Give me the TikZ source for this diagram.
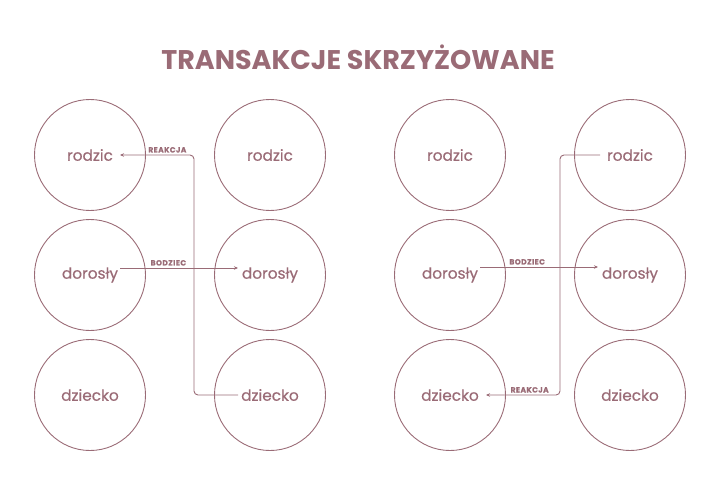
\documentclass[tikz,border=0pt]{standalone}
\usepackage{fontspec}
\setmainfont{Poppins}
\newfontfamily\wordfont[FakeBold=0.5]{Poppins}
\newfontfamily\tagfont[LetterSpace=6,FakeBold=0.8]{Poppins}
\usetikzlibrary{arrows.meta,calc}
\definecolor{mauve}{HTML}{9A6B76}
\begin{document}
\begin{tikzpicture}[x=1pt,y=-1pt]
        \tikzstyle{ego}=[circle,draw=mauve,line width=0.9pt,minimum size=111pt,inner sep=0pt,text=mauve,font=\wordfont\fontsize{15.3}{17}\selectfont]
        \tikzstyle{edge}=[draw=mauve,line width=0.9pt,rounded corners=4pt,-{Stealth[length=4pt,width=3.5pt]}]
        \tikzstyle{tag}=[text=mauve,font=\tagfont\bfseries\fontsize{7.5}{8}\selectfont,inner sep=2pt,above]
        \useasboundingbox (0,0) rectangle (720,500);
        \node[text=mauve,font=\bfseries\fontsize{27}{31}\selectfont] (title) at (358,57) {TRANSAKCJE SKRZYŻOWANE};
       % first pair
       \begin{scope}
         \node [ego] (Ar1) at (90,155) {rodzic};
         \node [ego] (Ad1) at (90,275) {dorosły};
         \node [ego] (Ac1) at (90,395) {dziecko};
         \node [ego] (Ar2) at (270,155) {rodzic};
         \node [ego] (Ad2) at (270,275) {dorosły};
         \node [ego] (Ac2) at (270,395) {dziecko};
         \coordinate (Abend) at (194,0);
         \path[edge] ([xshift=30pt,yshift=7pt]Ad1.center) -- node[tag,pos=0.41] {BODZIEC} ([xshift=-32pt,yshift=7pt]Ad2.center);
         \path[edge] ([xshift=-32pt]Ac2.center) -- (Abend |- Ac2) -- (Abend |- Ar1) -- node[tag,pos=0.36] {REAKCJA} ([xshift=30pt]Ar1.center);
        \end{scope}
       % second pair
       \begin{scope}
         \node [ego] (Br1) at (450,155) {rodzic};
         \node [ego] (Bd1) at (450,275) {dorosły};
         \node [ego] (Bc1) at (450,395) {dziecko};
         \node [ego] (Br2) at (630,155) {rodzic};
         \node [ego] (Bd2) at (630,275) {dorosły};
         \node [ego] (Bc2) at (630,395) {dziecko};
         \coordinate (Bbend) at (560,0);
         \path[edge] ([xshift=30pt,yshift=8pt]Bd1.center) -- node[tag,pos=0.40] {BODZIEC} ([xshift=-32pt,yshift=8pt]Bd2.center);
         \path[edge] ([xshift=-30pt]Br2.center) -- (Bbend |- Br2) -- (Bbend |- Bc1) -- node[tag,pos=0.41] {REAKCJA} ([xshift=36pt]Bc1.center);
        \end{scope}
      \end{tikzpicture}
\end{document}
